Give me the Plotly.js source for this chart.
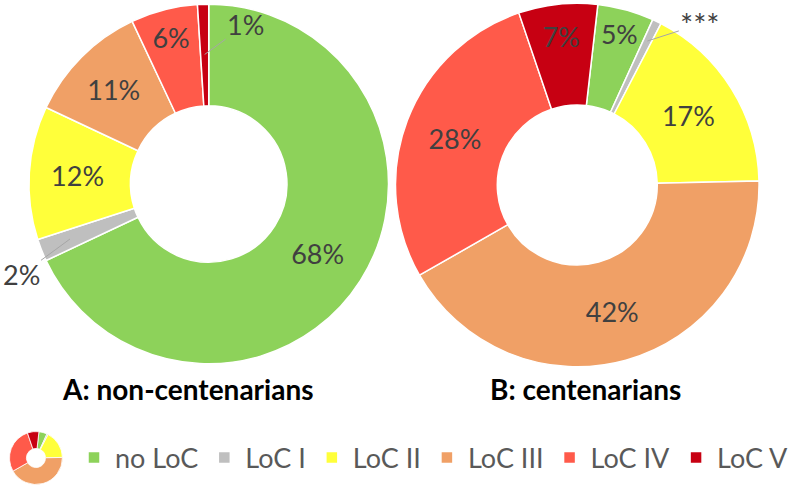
<!DOCTYPE html>
<html>
<head>
<meta charset="utf-8">
<script src="https://cdn.plot.ly/plotly-3.0.1.min.js"></script>
<style>
  html, body { margin: 0; padding: 0; background: #fff; }
  #chart { width: 794px; height: 491px; }
</style>
</head>
<body>
<div id="chart"></div>
<script>
// ---- data ----
const categories = ['no LoC', 'LoC I', 'LoC II', 'LoC III', 'LoC IV', 'LoC V'];
const colors = ['#8DD25A', '#BFBFBF', '#FFFF3A', '#F0A066', '#FF5A4A', '#C70012'];
const valuesA = [68, 2, 12, 11, 6, 1];          // A: non-centenarians (%)
const valuesB = [5, 0.8, 17, 42, 28, 7];        // B: centenarians (%)
const labelsA = ['68%', '2%', '12%', '11%', '6%', '1%'];
const labelsB = ['5%', '***', '17%', '42%', '28%', '7%'];
const outsideA = [false, true, false, false, false, true];
const outsideB = [false, true, false, false, false, false];
const titleA = 'A: non-centenarians';
const titleB = 'B: centenarians';

// ---- layout constants ----
const W = 794, H = 491;
const FONT = 'Lato, "Open Sans", sans-serif';
const pies = {
  A: { cx: 209, cy: 184, r: 180, hole: 0.435, rot: 0 },
  B: { cx: 578, cy: 185, r: 182, hole: 0.44, rot: 6.5 },
  icon: { cx: 36, cy: 458, r: 26.5, hole: 0.36, rot: 6.5 }
};
function domainOf(p) {
  return {
    x: [(p.cx - p.r) / W, (p.cx + p.r) / W],
    y: [1 - (p.cy + p.r) / H, 1 - (p.cy - p.r) / H]
  };
}
function insideText(labels, outside) {
  return labels.map((t, i) => outside[i] ? '' : t);
}
function pieTrace(values, labels, outside, p, name, showText, showlegend) {
  return {
    type: 'pie',
    name: name,
    labels: categories,
    values: values,
    sort: false,
    direction: 'clockwise',
    rotation: p.rot,
    hole: p.hole,
    domain: domainOf(p),
    marker: { colors: colors, line: { color: '#FFFFFF', width: showText ? 1.5 : 0.8 } },
    text: showText ? insideText(labels, outside) : categories.map(() => ''),
    textinfo: 'text',
    textposition: 'inside',
    insidetextorientation: 'horizontal',
    insidetextfont: { family: FONT, size: 27, color: '#404040' },
    showlegend: showlegend,
    hoverinfo: 'none'
  };
}

// annotation with leader line for small slices, point computed from data
function sliceAnno(values, idx, p, frac, text, ax, ay, size) {
  const total = values.reduce((a, b) => a + b, 0);
  let cum = 0;
  for (let i = 0; i < idx; i++) cum += values[i];
  const ang = (p.rot + 360 * (cum + values[idx] / 2) / total) * Math.PI / 180;
  const px = p.cx + frac * p.r * Math.sin(ang);
  const py = p.cy - frac * p.r * Math.cos(ang);
  return {
    xref: 'paper', yref: 'paper',
    x: px / W, y: 1 - py / H,
    text: text,
    showarrow: true, arrowhead: 0, arrowwidth: 1, arrowcolor: '#A6A6A6',
    ax: ax, ay: ay, standoff: 0,
    font: { family: FONT, size: size || 27, color: '#404040' }
  };
}

const annotations = [
  sliceAnno(valuesA, 5, pies.A, 0.72, labelsA[5], 41, -30),
  sliceAnno(valuesA, 1, pies.A, 0.83, labelsA[1], -49, 36),
  sliceAnno(valuesB, 1, pies.B, 0.88, labelsB[1], 53, -17, 31),
  {
    xref: 'paper', yref: 'paper', x: 188 / W, y: 1 - 389 / H,
    xanchor: 'center', yanchor: 'middle',
    text: '<b>' + titleA + '</b>', showarrow: false,
    font: { family: FONT, size: 28, color: '#000000' }
  },
  {
    xref: 'paper', yref: 'paper', x: 586 / W, y: 1 - 389 / H,
    xanchor: 'center', yanchor: 'middle',
    text: '<b>' + titleB + '</b>', showarrow: false,
    font: { family: FONT, size: 28, color: '#000000' }
  }
];

const data = [
  pieTrace(valuesA, labelsA, outsideA, pies.A, titleA, true, true),
  pieTrace(valuesB, labelsB, outsideB, pies.B, titleB, true, true),
  pieTrace(valuesB, labelsB, outsideB, pies.icon, 'icon', false, false)
];

const layout = {
  width: W, height: H,
  margin: { l: 0, r: 0, t: 0, b: 0 },
  paper_bgcolor: '#FFFFFF',
  plot_bgcolor: '#FFFFFF',
  showlegend: true,
  legend: {
    orientation: 'h',
    x: 0.092, xanchor: 'left',
    y: 1 - 458 / H, yanchor: 'middle',
    itemwidth: 32,
    font: { family: FONT, size: 27, color: '#595959' },
    traceorder: 'normal',
    bgcolor: 'rgba(0,0,0,0)'
  },
  annotations: annotations
};

Plotly.newPlot('chart', data, layout, { staticPlot: true, displayModeBar: false });
</script>
</body>
</html>
